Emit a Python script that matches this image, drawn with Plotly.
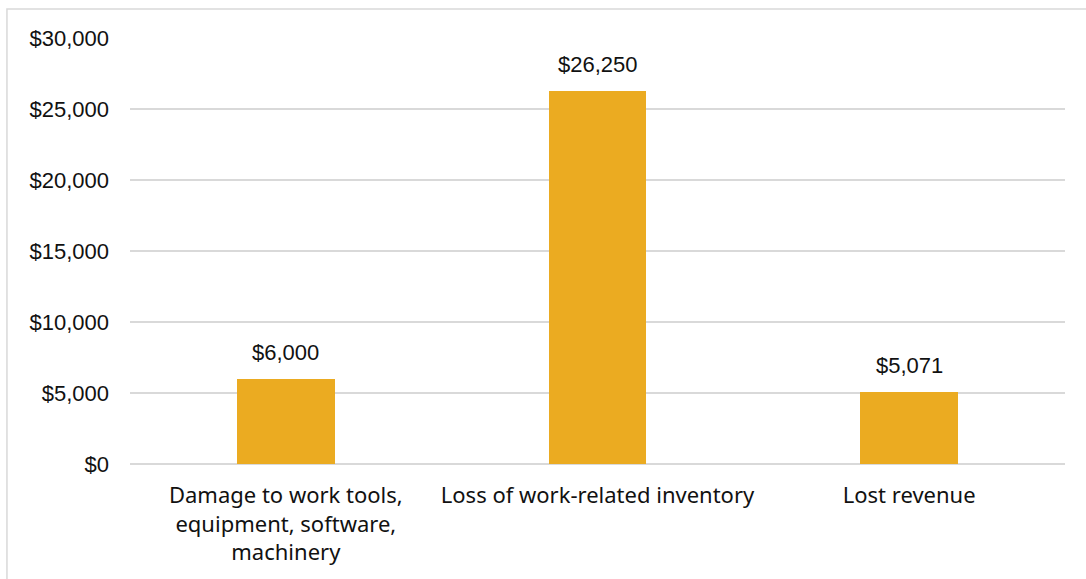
import plotly.graph_objects as go

# Cost categories and their amounts (USD)
categories = [
    "Damage to work tools,<br>equipment, software,<br>machinery",
    "Loss of work-related inventory",
    "Lost revenue",
]
amounts = [6000, 26250, 5071]
tick_values = [0, 5000, 10000, 15000, 20000, 25000, 30000]
tick_labels = ["$0", "$5,000", "$10,000", "$15,000", "$20,000", "$25,000", "$30,000"]

BAR_COLOR = "#EBAB21"
GRID_COLOR = "#D9D9D9"
TEXT_COLOR = "#111111"
NUM_FONT = "Liberation Sans, Arial, sans-serif"
CAT_FONT = "Noto Sans, Lato, sans-serif"

x_pos = list(range(len(categories)))

fig = go.Figure(
    go.Bar(
        x=x_pos,
        y=amounts,
        marker=dict(color=BAR_COLOR, line=dict(width=0)),
        width=0.314,
        hoverinfo="skip",
    )
)

# value labels above each bar
for xi, v in zip(x_pos, amounts):
    fig.add_annotation(
        x=xi, y=v, text=f"${v:,.0f}", showarrow=False,
        yanchor="bottom", yshift=12,
        font=dict(family=NUM_FONT, size=22, color=TEXT_COLOR),
    )

# outer chart border
fig.add_shape(
    type="rect", xref="paper", yref="paper",
    x0=-0.1316, x1=1.2, y0=-0.4, y1=1.068,
    line=dict(color=GRID_COLOR, width=1.5), fillcolor="rgba(0,0,0,0)",
    layer="below",
)

fig.update_layout(
    width=1086, height=579,
    margin=dict(l=130, r=21, t=38, b=115),
    paper_bgcolor="white", plot_bgcolor="white",
    showlegend=False,
    bargap=0,
    xaxis=dict(
        range=[-0.5, 2.5],
        tickmode="array", tickvals=x_pos, ticktext=categories,
        showgrid=False, zeroline=False, showline=False, ticks="",
        tickfont=dict(family=CAT_FONT, size=22, color=TEXT_COLOR),
        ticklabelstandoff=16,
        fixedrange=True,
    ),
    yaxis=dict(
        range=[0, 30000],
        tickmode="array", tickvals=tick_values, ticktext=tick_labels,
        showgrid=True, gridcolor=GRID_COLOR, gridwidth=1.5,
        zeroline=True, zerolinecolor=GRID_COLOR, zerolinewidth=1.5,
        showline=False, ticks="",
        tickfont=dict(family=NUM_FONT, size=22, color=TEXT_COLOR),
        ticklabelstandoff=20,
        fixedrange=True,
    ),
)

fig.write_html("out.html", config=dict(displayModeBar=False))
